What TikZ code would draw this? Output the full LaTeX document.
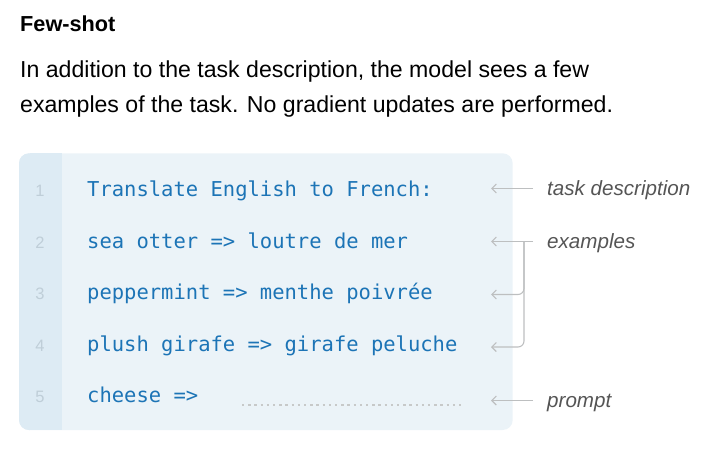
\documentclass[tikz,border=0pt]{standalone}
\usepackage{fontspec}
\setmainfont{Liberation Sans}
\setmonofont{DejaVu Sans Mono}
\usetikzlibrary{arrows.meta}

\definecolor{boxbg}{HTML}{EBF3F8}
\definecolor{gutterbg}{HTML}{DDEBF4}
\definecolor{numgray}{HTML}{BFCED8}
\definecolor{codeblue}{HTML}{1C74B6}
\definecolor{linkgray}{HTML}{BDBFC0}
\definecolor{notegray}{HTML}{555555}

\tikzset{
	heading/.style={anchor=base west, inner sep=0pt, font=\bfseries\fontsize{21.7}{26}\selectfont},
	body/.style={anchor=base west, inner sep=0pt, font=\fontsize{23.1}{28}\selectfont},
	lineno/.style={anchor=base, inner sep=0pt, text=numgray, font=\fontsize{16.5}{20}\selectfont},
	code/.style={anchor=base west, inner sep=0pt, text=codeblue, font=\ttfamily\fontsize{20.5}{24}\selectfont},
	note/.style={anchor=base west, inner sep=0pt, text=notegray, font=\itshape\fontsize{20.6}{24}\selectfont},
	link/.style={draw=linkgray, line width=1.1pt},
	ptr/.style={link, -{Straight Barb[length=4.5pt,width=9pt]}},
}

\begin{document}
\begin{tikzpicture}[x=1pt, y=-1pt]
		%%%%% START %%%%%
		\useasboundingbox (0, 0) rectangle (720, 453);
		
		\node[heading] (title) at (20, 31.7) {Few-shot};
		\node[body] (intro1) at (20, 77.3) {In addition to the task description, the model sees a few};
		\node[body] (intro2) at (20, 112.5) {examples of the task. No gradient updates are performed.};
		
		% code panel with its number gutter
		\fill[boxbg, rounded corners=10pt] (19, 153.3) rectangle (512.7, 430);
		\fill[gutterbg, rounded corners=10pt] (19, 153.3) rectangle (40, 430);
		\fill[gutterbg] (30, 153.3) rectangle (61.7, 430);
		
		\node[lineno] (n1) at (40, 196.5) {1};
		\node[lineno] (n2) at (40, 248.1) {2};
		\node[lineno] (n3) at (40, 299.7) {3};
		\node[lineno] (n4) at (40, 351.3) {4};
		\node[lineno] (n5) at (40, 402.9) {5};
		
		\node[code] (c1) at (87, 196.5) {Translate English to French:};
		\node[code] (c2) at (87, 248.1) {sea otter => loutre de mer};
		\node[code] (c3) at (87, 299.7) {peppermint => menthe poivrée};
		\node[code] (c4) at (87, 351.3) {plush girafe => girafe peluche};
		\node[code] (c5) at (87, 402.9) {cheese =>};
		
		\draw[linkgray!85, line width=2pt, dash pattern=on 2.4pt off 3.8pt] (242, 405) -- (463, 405);
		
		% notes on the right
		\coordinate (a1) at (491, 188.5);
		\coordinate (a2) at (491, 241.5);
		\coordinate (a3) at (491, 294.5);
		\coordinate (a4) at (491, 347);
		\coordinate (a5) at (491, 400.5);
		\coordinate (fork) at (524, 241.5);
		
		\node[note] (desc) at (547, 195.5) {task description};
		\node[note] (expl) at (547, 248.5) {examples};
		\node[note] (prmt) at (547, 407.5) {prompt};
		
		\draw[ptr, shorten <=14pt] (desc.west |- a1) -- (a1);
		\draw[ptr, shorten <=14pt] (expl.west |- a2) -- (a2);
		\draw[ptr, rounded corners=6pt] (fork) |- (a3);
		\draw[ptr, rounded corners=6pt] (fork) |- (a4);
		\draw[ptr, shorten <=14pt] (prmt.west |- a5) -- (a5);
		%%%%% END %%%%%
\end{tikzpicture}
\end{document}
